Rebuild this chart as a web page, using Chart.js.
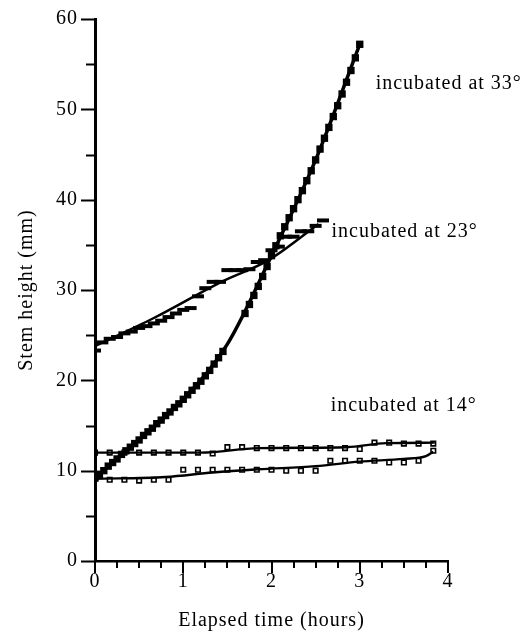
<!DOCTYPE html>
<html>
<head>
<meta charset="utf-8">
<script src="https://cdn.jsdelivr.net/npm/chart.js@4.4.0/dist/chart.umd.min.js"></script>
<style>
  html, body { margin: 0; padding: 0; background: #fff; }
  #wrap { width: 531px; height: 633px; }
</style>
</head>
<body>
<div id="wrap"><canvas id="stemChart"></canvas></div>
<script>
// ─── Readings (time in minutes, stem height in mm) ────────────────────────────
// 33° – measured every 3 min (a short gap with no marks around 1.5 h)
const T_33 = [0,3,6,9,12,15,18,21,24,27,30,33,36,39,42,45,48,51,54,57,
              60,63,66,69,72,75,78,81,84,87,90,93,96,99,102,105,108,111,114,117,
              120,123,126,129,132,135,138,141,144,147,150,153,156,159,162,165,168,171,174,177,180];
const H_33 = [9.2,9.6,10.0,10.5,10.9,11.3,11.8,12.2,12.6,13.0,13.4,13.9,14.3,14.7,15.2,15.6,16.1,16.5,17.0,17.4,
              17.9,18.4,18.9,19.4,19.9,20.5,21.1,21.8,22.5,23.2,null,null,null,null,27.4,28.4,29.4,30.4,31.5,32.6,
              33.8,34.9,36.0,37.0,38.0,39.0,40.0,41.0,42.1,43.2,44.4,45.6,46.8,48.0,49.2,50.4,51.7,53.0,54.3,55.7,57.2];
const FIT_T_33 = [0, 30, 60, 90, 120, 150, 180];
const FIT_H_33 = [9.2, 13.4, 17.9, 24.0, 33.8, 44.4, 57.2];

// 23° – every 5 min
const T_23 = [0,5,10,15,20,25,30,35,40,45,50,55,60,65,70,75,80,85,90,95,
              100,105,110,115,120,125,130,135,140,145,150,155];
const H_23 = [23.3,24.2,24.6,24.8,25.2,25.4,25.8,26.0,26.3,26.6,27.0,27.4,27.8,28.0,29.3,30.2,30.9,30.9,32.2,32.2,
              32.2,32.3,33.1,33.3,34.4,34.8,35.9,35.9,36.5,36.5,37.1,37.7];
const FIT_T_23 = [0, 40, 86, 118, 152];
const FIT_H_23 = [23.8, 26.9, 30.9, 33.3, 37.3];

// 14° – two plants, every 10 min
const T_14 = [0,10,20,30,40,50,60,70,80,90,100,110,120,130,140,150,160,170,180,190,200,210,220,230];
const H_14A = [12.0,12.0,12.0,12.0,12.0,12.0,12.0,12.0,11.9,12.6,12.6,12.5,12.5,12.5,12.5,12.5,12.5,12.5,12.4,13.1,13.1,13.0,13.0,13.0];
const H_14B = [9.1,9.0,9.0,8.9,9.0,9.0,10.1,10.1,10.1,10.1,10.1,10.1,10.1,10.0,10.0,10.0,11.1,11.1,11.1,11.1,10.9,10.9,11.1,12.2];
const FIT_T_14A = [0, 72, 111, 171, 198, 231];
const FIT_H_14A = [12.0, 12.0, 12.5, 12.6, 13.05, 13.1];
const FIT_T_14B = [0, 48, 80, 111, 150, 180, 210, 225, 230];
const FIT_H_14B = [9.1, 9.3, 9.8, 10.15, 10.5, 11.0, 11.3, 11.6, 12.1];

const X_TICKS = [0, 1, 2, 3, 4];
const Y_TICKS = [0, 10, 20, 30, 40, 50, 60];

const LABELS = [
  { text: 'incubated at 33°', x: 3.18, y: 52.8 },
  { text: 'incubated at 23°', x: 2.68, y: 36.4 },
  { text: 'incubated at 14°', x: 2.67, y: 17.2 }
];

// minutes -> hours points
function pts(ts, hs) {
  return ts.map((t, i) => ({ x: t / 60, y: hs[i] }));
}

const FONT = '"Liberation Serif", "Times New Roman", serif';
const INK = '#000';
Chart.defaults.font.family = FONT;
Chart.defaults.font.size = 20;
Chart.defaults.color = INK;

function fitLine(ts, hs, w) {
  return {
    data: pts(ts, hs), showLine: true, pointRadius: 0,
    borderColor: INK, borderWidth: w, cubicInterpolationMode: 'monotone'
  };
}

// ─── Letter spacing (the printed face runs wider than Times) ─────────────────
const spacingPlugin = {
  id: 'spacing',
  beforeDraw(chart) { chart.ctx.letterSpacing = '1px'; }
};

// ─── Minor + major tick marks, drawn outward ─────────────────────────────────
const tickPlugin = {
  id: 'tickMarks',
  afterDraw(chart) {
    const { ctx, scales: { x, y } } = chart;
    ctx.save();
    ctx.strokeStyle = INK;
    ctx.lineWidth = 2;
    ctx.beginPath();
    for (let v = 0; v <= 60; v += 5) {
      const py = Math.round(y.getPixelForValue(v)) + 0.5;
      const len = v % 10 === 0 ? 14 : 9;
      ctx.moveTo(x.left - len, py);
      ctx.lineTo(x.left, py);
    }
    for (let q = 0; q <= 16; q++) {
      const px = Math.round(x.getPixelForValue(q / 4));
      const len = q % 4 === 0 ? 12 : 7;
      ctx.moveTo(px, y.bottom);
      ctx.lineTo(px, y.bottom + len);
    }
    ctx.stroke();
    ctx.restore();
  }
};

// ─── Curve labels ────────────────────────────────────────────────────────────
const labelPlugin = {
  id: 'curveLabels',
  afterDraw(chart) {
    const { ctx, scales: { x, y } } = chart;
    ctx.save();
    ctx.font = '20px ' + FONT;
    ctx.fillStyle = INK;
    ctx.textAlign = 'left';
    ctx.textBaseline = 'middle';
    LABELS.forEach(l => ctx.fillText(l.text, x.getPixelForValue(l.x), y.getPixelForValue(l.y)));
    ctx.restore();
  }
};

new Chart(document.getElementById('stemChart'), {
  type: 'scatter',
  data: {
    datasets: [
      {
        data: pts(T_33, H_33), pointStyle: 'rect', pointRadius: 5.2,
        backgroundColor: INK, borderColor: INK, borderWidth: 0
      },
      {
        data: pts(T_23, H_23), pointStyle: 'line', pointRadius: 6,
        borderColor: INK, borderWidth: 4
      },
      {
        data: pts(T_14, H_14A), pointStyle: 'rect', pointRadius: 3.2,
        backgroundColor: 'rgba(0,0,0,0)', borderColor: INK, borderWidth: 1.6
      },
      {
        data: pts(T_14, H_14B), pointStyle: 'rect', pointRadius: 3.2,
        backgroundColor: 'rgba(0,0,0,0)', borderColor: INK, borderWidth: 1.6
      },
      fitLine(FIT_T_33, FIT_H_33, 3.5),
      fitLine(FIT_T_23, FIT_H_23, 2.5),
      fitLine(FIT_T_14A, FIT_H_14A, 2.4),
      fitLine(FIT_T_14B, FIT_H_14B, 2.4)
    ]
  },
  options: {
    responsive: true,
    maintainAspectRatio: false,
    animation: false,
    layout: { padding: { top: 19, right: 83, bottom: 0, left: 0 } },
    plugins: { legend: { display: false }, tooltip: { enabled: false } },
    scales: {
      x: {
        type: 'linear', min: 0, max: 4,
        afterFit(s) { s.height = 72; s.paddingLeft = 0; s.paddingRight = 0; },
        afterBuildTicks(s) { s.ticks = X_TICKS.map(v => ({ value: v })); },
        grid: { display: false, drawTicks: false },
        border: { display: true, color: INK, width: 2.5 },
        ticks: { padding: 9, color: INK, font: { size: 20 } },
        title: { display: true, text: 'Elapsed time (hours)', color: INK, font: { size: 20 }, padding: { top: 0, bottom: 0 } }
      },
      y: {
        type: 'linear', min: 0, max: 60,
        afterFit(s) { s.width = 95; s.paddingTop = 0; s.paddingBottom = 0; },
        afterBuildTicks(s) { s.ticks = Y_TICKS.map(v => ({ value: v })); },
        grid: { display: false, drawTicks: false },
        border: { display: true, color: INK, width: 3 },
        ticks: { padding: 17, color: INK, font: { size: 20 } },
        title: { display: true, text: 'Stem height (mm)', color: INK, font: { size: 20 }, padding: { top: 15, bottom: 0 } }
      }
    }
  },
  plugins: [spacingPlugin, tickPlugin, labelPlugin]
});
</script>
</body>
</html>
